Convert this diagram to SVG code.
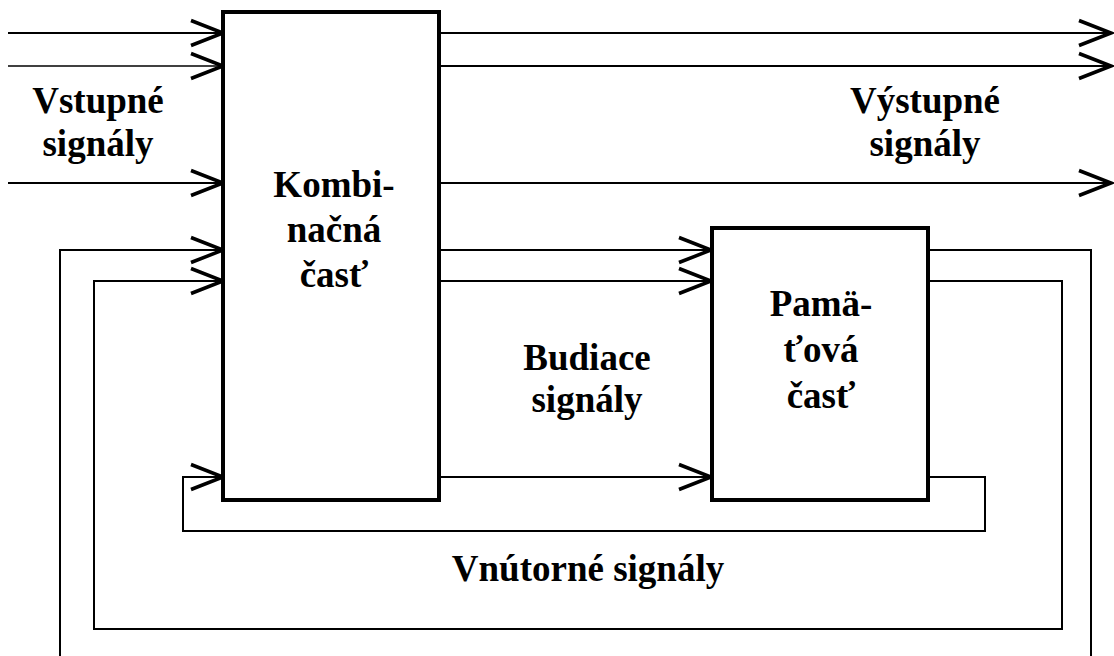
<svg xmlns="http://www.w3.org/2000/svg" width="1114" height="656" viewBox="0 0 1114 656" font-family="'Liberation Serif', 'DejaVu Serif', serif">
<style>
.box{fill:#fff;stroke:#000;stroke-width:4}
.ln{fill:none;stroke:#000;stroke-width:2}
.thin{stroke-width:1.3}
.arr{fill:none;stroke:#000;stroke-width:3.5}
.t{font-family:'Liberation Serif','DejaVu Serif',serif;font-weight:bold;font-size:37px;fill:#000;text-anchor:middle}
</style>
<defs>
<marker id="ah" markerUnits="userSpaceOnUse" markerWidth="40" markerHeight="30" refX="33" refY="13" orient="auto" overflow="visible">
<path class="arr" d="M1,0.5 L33,13 L1,25.5"/>
</marker>
</defs>
<rect width="1114" height="656" fill="#fff"/>
<g id="connectors">
<path class="ln" d="M8,33 H223" marker-end="url(#ah)"/>
<path class="ln thin" d="M8,66 H223" marker-end="url(#ah)"/>
<path class="ln" d="M8,183 H223" marker-end="url(#ah)"/>
<path class="ln" d="M439,33 H1111" marker-end="url(#ah)"/>
<path class="ln" d="M439,66 H1111" marker-end="url(#ah)"/>
<path class="ln" d="M439,183 H1111" marker-end="url(#ah)"/>
<path class="ln" d="M439,250 H711" marker-end="url(#ah)"/>
<path class="ln" d="M439,281 H711" marker-end="url(#ah)"/>
<path class="ln" d="M439,477 H711" marker-end="url(#ah)"/>
<path class="ln" d="M928,250 H1091 V660"/>
<path class="ln" d="M60,660 V250 H223" marker-end="url(#ah)"/>
<path class="ln" d="M928,281 H1062 V629 H94 V281 H223" marker-end="url(#ah)"/>
<path class="ln" d="M928,477 H985 V531 H183 V477 H223" marker-end="url(#ah)"/>
</g>
<g id="kombinacna">
<rect class="box" x="223" y="12" width="216" height="488"/>
<text class="t" x="334" y="197">Kombi-</text>
<text class="t" x="334" y="242">načná</text>
<text class="t" x="334" y="287">časť</text>
</g>
<g id="pamatova">
<rect class="box" x="712" y="228" width="216" height="272"/>
<text class="t" x="821" y="316">Pamä-</text>
<text class="t" x="821" y="362">ťová</text>
<text class="t" x="821" y="408">časť</text>
</g>
<g id="label-vstupne">
<text class="t" x="98" y="113">Vstupné</text>
<text class="t" x="98" y="156">signály</text>
</g>
<g id="label-vystupne">
<text class="t" x="925" y="113">Výstupné</text>
<text class="t" x="925" y="156">signály</text>
</g>
<g id="label-budiace">
<text class="t" x="587" y="370">Budiace</text>
<text class="t" x="587" y="412">signály</text>
</g>
<g id="label-vnutorne">
<text class="t" x="588" y="581">Vnútorné signály</text>
</g>
</svg>
